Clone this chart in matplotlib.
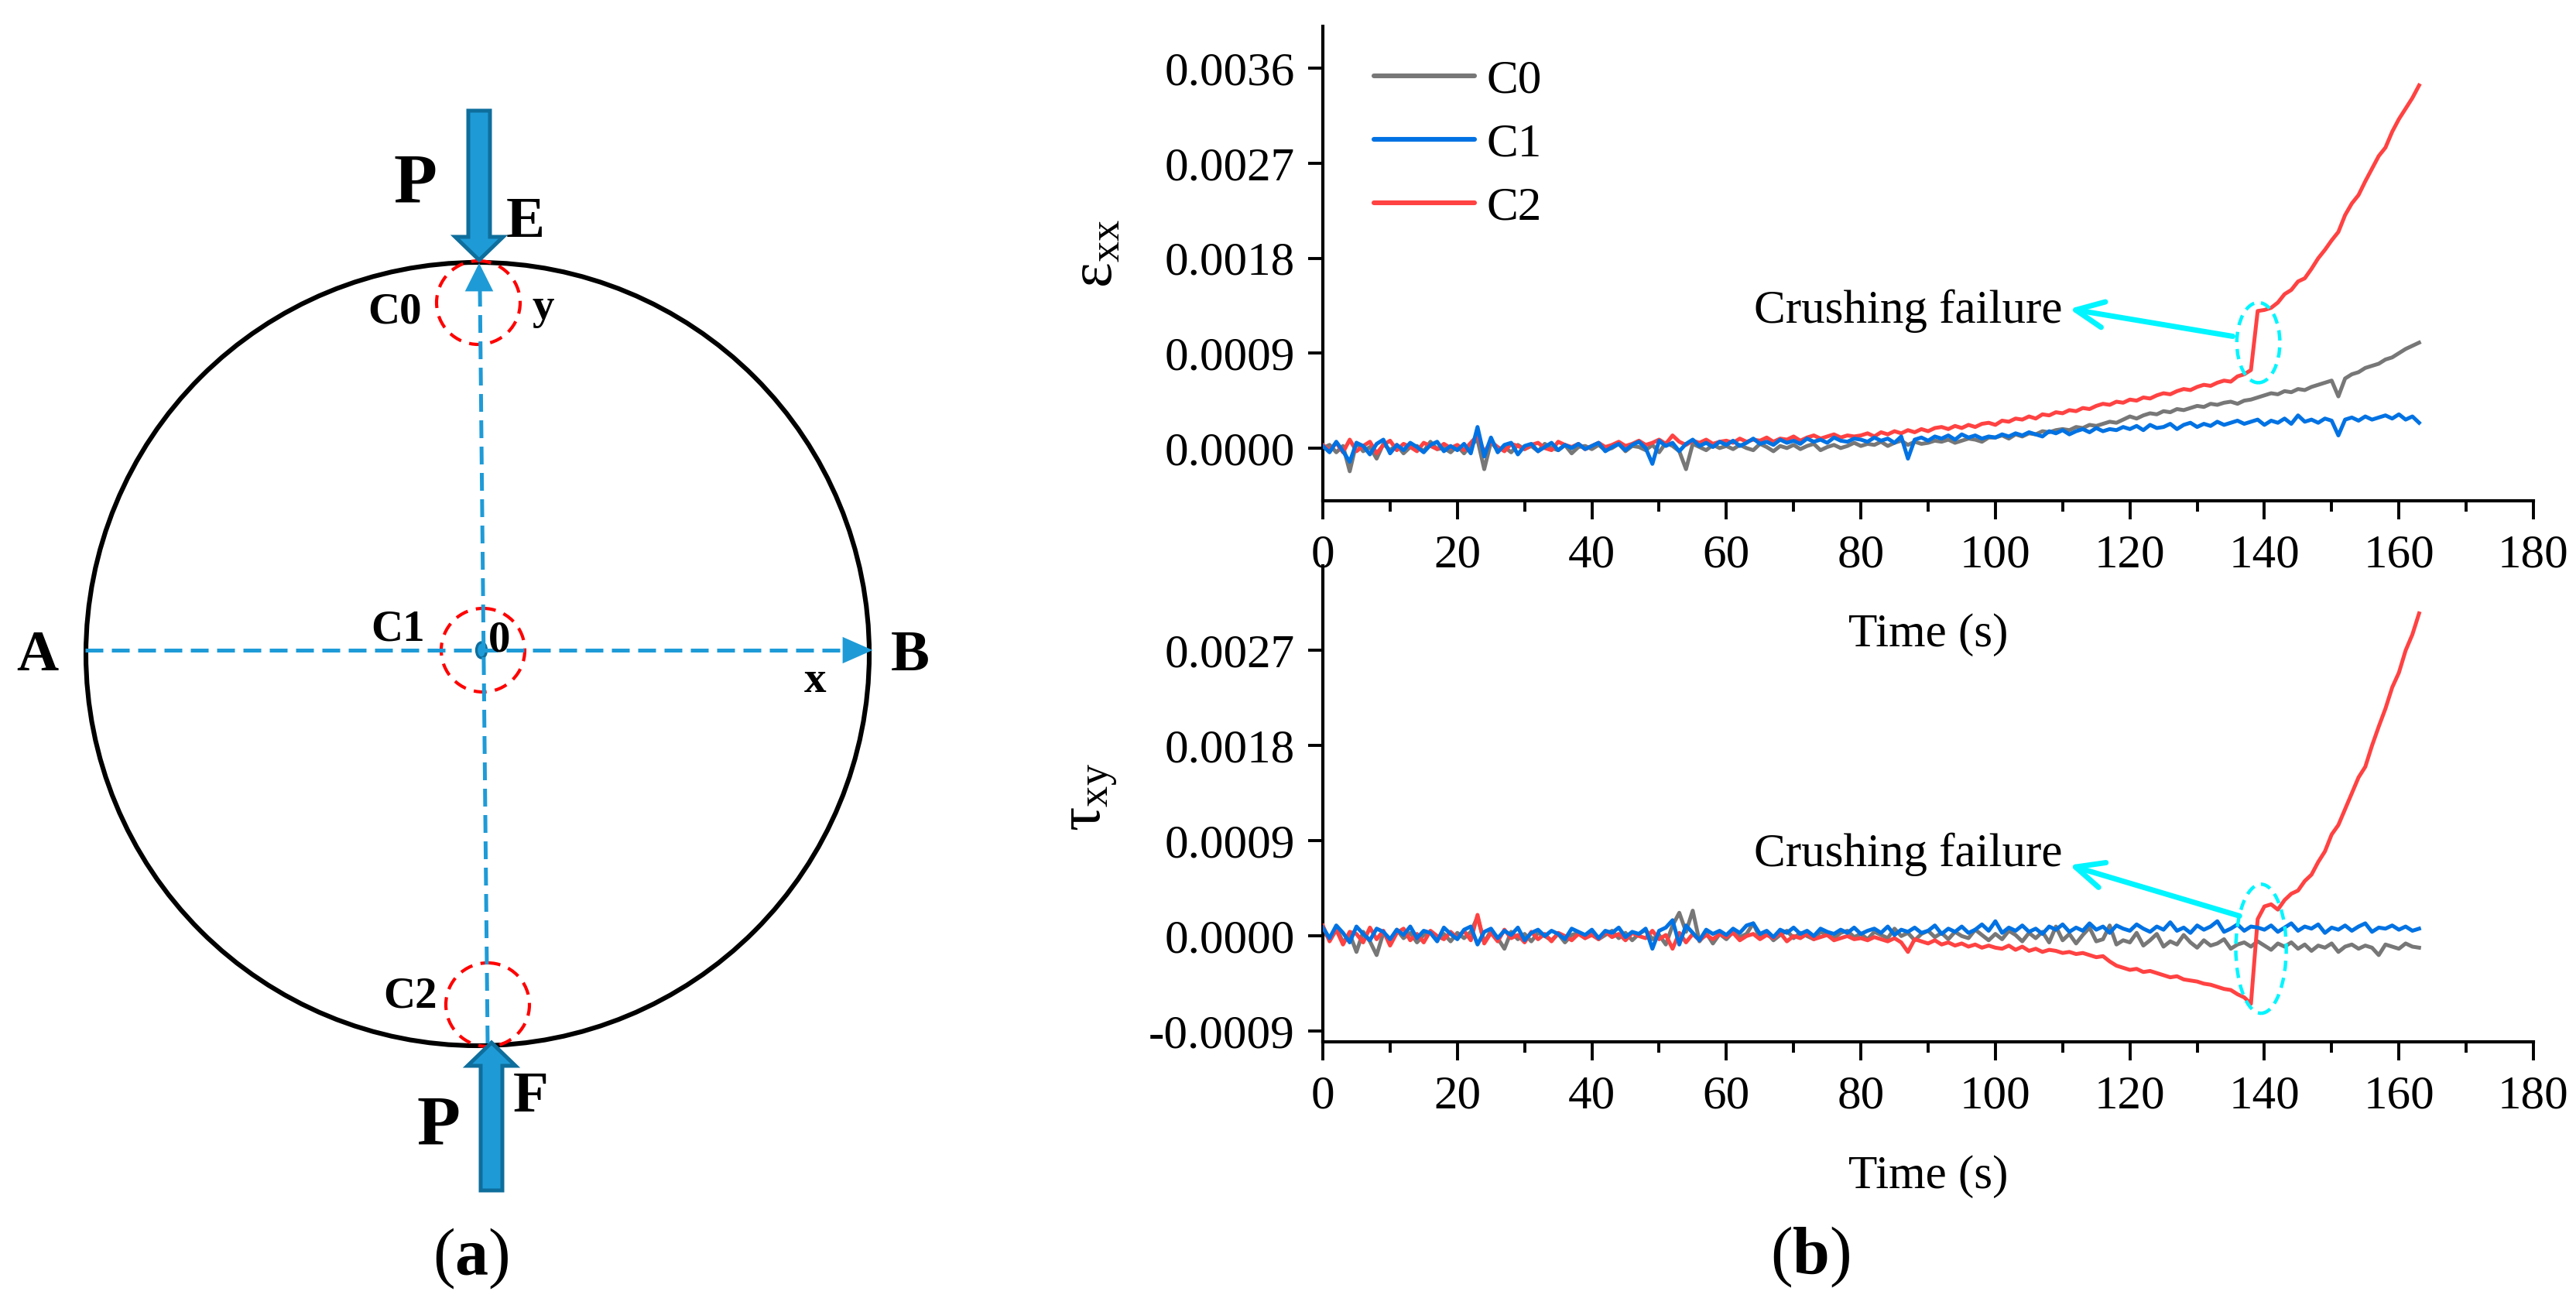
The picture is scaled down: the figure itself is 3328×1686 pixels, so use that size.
import numpy as np
import matplotlib
matplotlib.use('Agg')
import matplotlib.pyplot as plt
from matplotlib.patches import Circle, Ellipse, Polygon, FancyArrow
from matplotlib.ticker import MultipleLocator

plt.rcParams['font.family'] = ['Liberation Serif', 'DejaVu Serif']
plt.rcParams['mathtext.fontset'] = 'custom'
plt.rcParams['mathtext.rm'] = 'Liberation Serif'
plt.rcParams['mathtext.it'] = 'Liberation Serif:italic'
plt.rcParams['mathtext.bf'] = 'Liberation Serif:bold'

# strain values, units of 1e-5, one sample per second
time_s = np.arange(164)

exx_c0 = [0, 3, -4, 2, -22, 5, -3, 1, -10, 4, -2, 3, -5, 1, 2, -3, 6, -1, 0, -4,
          2, -5, 3, 8, -20, 6, -2, 1, -4, 3, -1, 2, -3, 4, 0, -2, 3, -5, 1, 2,
          -1, 3, -2, 0, 4, -3, 2, 1, -2, 3, -4, 5, 2, -3, -20, 4, 1, -2, 3, 0,
          2, -1, 3, 0, -2, 4, 1, -3, 2, 0, 3, -1, 2, 4, -2, 1, 3, 0, 2, 5,
          2, 4, 3, 6, 2, 5, 7, 3, 6, 4, 5, 7, 6, 8, 5, 7, 9, 8, 6, 10,
          10, 12, 9, 13, 11, 14, 13, 16, 15, 17, 18, 17, 20, 19, 22, 21, 23, 25, 24, 27,
          30, 28, 31, 33, 32, 35, 34, 37, 36, 38, 40, 39, 42, 41, 43, 44, 42, 45, 46, 48,
          50, 52, 51, 54, 53, 56, 55, 58, 60, 62, 64, 49, 66, 70, 72, 76, 78, 80, 84, 86,
          90, 94, 97, 100]
exx_c1 = [2, -4, 6, -3, -13, 5, 2, -6, 4, 8, -5, 3, -2, 5, 1, -4, 3, 6, -3, 2,
          -2, 4, -5, 20, -8, 10, -4, 3, 5, -6, 2, 4, -3, 1, 5, -2, 3, 0, 4, -1,
          2, 5, -3, 1, 4, -2, 3, 6, 0, -15, 7, 2, 5, -3, 4, 8, 2, 5, 1, 6,
          3, 7, 2, 5, 9, 4, 6, 3, 8, 5, 7, 4, 9, 6, 8, 5, 10, 7, 6, 9,
          8, 6, 10, 7, 9, 5, 11, -10, 8, 10, 7, 11, 9, 12, 8, 13, 10, 12, 9, 11,
          10, 13, 11, 14, 12, 15, 13, 11, 16, 14, 17, 13, 16, 18, 15, 19, 16, 18, 17, 20,
          18, 21, 17, 22, 19, 20, 23, 18, 22, 24, 20, 23, 21, 25, 22, 24, 26, 23, 25, 27,
          22, 26, 24, 28, 23, 31, 25, 27, 24, 28, 26, 12, 27, 29, 26, 30, 27, 29, 31, 28,
          32, 27, 30, 24]
exx_c2 = [3, -2, 5, -4, 8, -3, 2, 6, -5, 3, 7, -2, 4, 1, -3, 5, 2, -1, 4, 0,
          3, -2, 5, 12, -4, 6, 1, -3, 4, 2, -1, 3, 5, 0, -2, 6, 3, 1, 4, -1,
          2, 5, 1, 3, 6, 2, 4, 7, 3, 5, 8, 4, 12, 6, 3, 7, 5, 8, 4, 6,
          7, 5, 9, 6, 8, 7, 10, 6, 9, 8, 11, 7, 10, 12, 9, 11, 13, 10, 12, 11,
          12, 14, 11, 15, 13, 16, 14, 17, 15, 18, 16, 19, 20, 18, 21, 19, 22, 20, 23, 24,
          22, 26, 25, 28, 27, 30, 28, 32, 31, 34, 33, 36, 35, 38, 37, 40, 42, 41, 44, 43,
          46, 45, 48, 47, 50, 52, 51, 54, 56, 55, 58, 60, 59, 62, 64, 63, 68, 70, 74, 130,
          131, 133, 138, 146, 150, 158, 161, 170, 180, 188, 197, 205, 221, 232, 240, 253, 265, 277, 285, 300,
          312, 322, 332, 344]

txy_c0 = [5, -3, 8, -6, 2, -15, 4, -5, -18, 3, -4, 6, -2, 3, -6, 1, 4, -3, 2, -5,
          3, -2, 4, 18, -6, 5, -2, -12, 4, -3, 2, -5, 3, 0, -4, 2, -6, 1, 3, -2,
          4, -3, 1, 5, -2, 3, -4, 2, 6, -3, 1, -8, 10, 22, 4, 24, -5, 3, -7, 2,
          -3, 4, -1, 2, 12, -2, 3, -4, 1, 5, -2, 3, 0, -3, 4, 1, -2, 3, 5, -1,
          2, -3, 4, 1, -2, 7, 0, 3, -4, 2, 5, -1, 3, -3, 4, 0, -2, 6, 1, -4,
          2, -3, 5, 1, -5, 3, -2, 4, -6, 9, -4, 2, -7, 1, 8, -5, -3, 10, -8, -4,
          -6, 3, -9, -4, 2, -10, -5, -8, 1, -6, -11, -4, -9, -7, -3, -12, -8, -6, -10, -5,
          -9, -13, -7, -10, -6, -12, -8, -14, -9, -11, -7, -15, -10, -8, -12, -9, -11, -18, -8, -10,
          -12, -7, -10, -11]
txy_c1 = [8, -2, 10, 3, -6, 9, 2, -4, 7, 4, -3, 6, 1, 9, -2, 5, 3, -5, 8, 2,
          -3, 6, 9, -8, 4, 7, -2, 5, 1, 8, -4, 3, 6, 0, 5, 2, -3, 7, 4, 1,
          6, -2, 5, 3, 8, -1, 4, 2, 7, -12, 5, 8, 15, -8, 10, 3, -4, 6, 2, 5,
          1, 7, 3, 10, 12, 2, 5, -1, 6, 3, 8, 2, 5, 0, 7, 4, 2, 6, 3, 8,
          2, 5, 7, 3, 9, 1, 6, 4, 8, 3, 5, 10, 2, 7, 4, 9, 3, 6, 11, 5,
          14, 3, 8, 5, 10, 4, 7, 2, 9, 6, 11, 4, 8, 5, 12, 6, 9, 3, 10, 7,
          5, 11, 7, 4, 9, 6, 13, 5, 8, 3, 10, 6, 9, 14, 4, 7, 11, 5, 9, 8,
          6, 10, 4, 8, 12, 5, 9, 7, 11, 3, 8, 6, 10, 5, 9, 12, 4, 8, 7, 10,
          6, 9, 5, 7]
txy_c2 = [10, -5, 6, -8, 4, 2, -6, 8, -3, 5, -9, 3, 7, -4, 2, -6, 5, 0, -3, 4,
          -2, 5, -4, 20, -7, 3, -5, 6, -2, 1, -6, 4, -3, 2, -5, 3, 0, -4, 2, -2,
          1, -3, 4, -1, 2, -4, 3, 0, -2, 5, -3, 1, -12, 3, -6, 2, -4, 1, -3, 2,
          -1, 3, -4, 0, 2, -3, 1, -2, 3, -5, 0, -2, 2, -3, -1, 1, -4, -2, 0, -3,
          -2, -4, -1, -3, -5, -2, -6, -15, -3, -5, -7, -4, -8, -6, -9, -7, -10, -8, -11, -9,
          -11, -12, -9, -13, -10, -14, -12, -15, -13, -14, -16, -15, -17, -16, -18, -20, -19, -24, -28, -30,
          -32, -31, -34, -33, -35, -37, -39, -38, -41, -42, -43, -45, -46, -48, -50, -51, -55, -58, -64, 16,
          28, 30, 25, 34, 40, 43, 52, 58, 70, 80, 96, 105, 120, 135, 150, 160, 180, 198, 215, 235,
          249, 270, 285, 305]

series_names = ['C0', 'C1', 'C2']
series_colors = ['#777777', '#0072E3', '#FF4242']
series_z = [2, 4, 3]

exx_ticks = [0.0, 0.0009, 0.0018, 0.0027, 0.0036]
txy_ticks = [-0.0009, 0.0, 0.0009, 0.0018, 0.0027]

W, H = 3328, 1686
fig = plt.figure(figsize=(W / 200, H / 200), dpi=200)

# ---------- (a) schematic, drawn in pixel units ----------
dax = fig.add_axes([0, 0, 1, 1])
dax.set_xlim(0, W)
dax.set_ylim(H, 0)
dax.axis('off')
dax.patch.set_visible(False)

blue = '#1E9BD7'
blue_edge = '#0E6E9C'
CX, CY, R = 617, 845, 506
dax.add_patch(Circle((CX, CY), R, fill=False, ec='black', lw=2.2))

# dashed axes with arrowheads
dax.plot([110, 1092], [840, 840], color=blue, lw=1.8, ls=(0, (4.6, 2.2)))
dax.add_patch(Polygon([(1124, 840), (1090, 825), (1090, 855)], closed=True, color=blue))
dax.plot([630, 620], [1348, 372], color=blue, lw=1.8, ls=(0, (4.6, 2.2)))
dax.add_patch(Polygon([(619, 343), (603, 375), (635, 375)], closed=True, color=blue))
dax.add_patch(Ellipse((622, 840), 13, 20, fc=blue, ec=blue_edge, lw=1.2))

# gauge circles
for gx, gy in [(618, 391), (624, 840), (630, 1298)]:
    dax.add_patch(Circle((gx, gy), 54, fill=False, ec='#FF0000', lw=1.5, ls=(0, (4, 2.6))))

# load arrows
dax.add_patch(FancyArrow(619, 143, 0, 193, width=28, head_width=62, head_length=30,
                         length_includes_head=True, fc=blue, ec=blue_edge, lw=1.8))
dax.add_patch(FancyArrow(635, 1538, 0, -191, width=28, head_width=62, head_length=30,
                         length_includes_head=True, fc=blue, ec=blue_edge, lw=1.8))

bold = dict(fontweight='bold', ha='center', va='center')
dax.text(536, 240, 'P', fontsize=33, **bold)
dax.text(566, 1457, 'P', fontsize=33, **bold)
dax.text(679, 288, 'E', fontsize=27, **bold)
dax.text(686, 1418, 'F', fontsize=27, **bold)
dax.text(48, 848, 'A', fontsize=27, **bold)
dax.text(1176, 848, 'B', fontsize=27, **bold)
dax.text(510, 404, 'C0', fontsize=20.5, **bold)
dax.text(514, 813, 'C1', fontsize=20.5, **bold)
dax.text(530, 1288, 'C2', fontsize=20.5, **bold)
dax.text(702, 398, 'y', fontsize=20.5, **bold)
dax.text(645, 828, '0', fontsize=20.5, **bold)
dax.text(1053, 880, 'x', fontsize=20.5, **bold)
dax.text(608, 1626, r'($\mathbf{a}$)', fontsize=31, ha='center', va='center')
dax.text(2339, 1624, r'($\mathbf{b}$)', fontsize=31, ha='center', va='center')

# ---------- (b) strain histories ----------
ax_top = fig.add_axes([0.51352, 0.61625, 0.46995, 0.36358])
ax_bot = fig.add_axes([0.51352, 0.20166, 0.46995, 0.36477])
ax_bot.patch.set_visible(False)

for name, color, z, y in zip(series_names, series_colors, series_z, [exx_c0, exx_c1, exx_c2]):
    ax_top.plot(time_s, np.array(y) * 1e-5, color=color, lw=1.8, zorder=z, label=name)
for name, color, z, y in zip(series_names, series_colors, series_z, [txy_c0, txy_c1, txy_c2]):
    ax_bot.plot(time_s, np.array(y) * 1e-5, color=color, lw=1.8, zorder=z, label=name)

ax_top.set_ylim(-0.0005, 0.0040)
ax_bot.set_ylim(-0.0010, 0.0035)
ax_top.set_yticks(exx_ticks)
ax_top.set_yticklabels([f'{v:.4f}' for v in exx_ticks])
ax_bot.set_yticks(txy_ticks)
ax_bot.set_yticklabels([f'{v:.4f}' for v in txy_ticks])

for ax in (ax_top, ax_bot):
    ax.set_xlim(0, 180)
    ax.xaxis.set_major_locator(MultipleLocator(20))
    ax.xaxis.set_minor_locator(MultipleLocator(10))
    for side in ('top', 'right'):
        ax.spines[side].set_visible(False)
    for side in ('left', 'bottom'):
        ax.spines[side].set_linewidth(1.5)
    ax.tick_params(which='both', direction='out', width=1.4, labelsize=22)
    ax.tick_params(axis='x', which='major', length=8.5, pad=7)
    ax.tick_params(axis='x', which='minor', length=5)
    ax.tick_params(axis='y', which='major', length=7, pad=6)
    ax.set_xlabel('Time (s)', fontsize=22)
    ax.xaxis.set_label_coords(0.5, -0.237)

ax_top.text(-0.1867, 0.522, r'$\mathrm{\varepsilon}_{\mathrm{xx}}$', transform=ax_top.transAxes,
            rotation=90, ha='center', va='center', fontsize=28)
ax_bot.text(-0.191, 0.514, r'$\mathrm{\tau}_{\mathrm{xy}}$', transform=ax_bot.transAxes,
            rotation=90, ha='center', va='center', fontsize=28)

leg = ax_top.legend(loc='upper left', bbox_to_anchor=(0.042, 0.93), frameon=False,
                    fontsize=22, handlelength=2.13, handletextpad=0.25, labelspacing=0.43,
                    borderpad=0, borderaxespad=0)
for line in leg.get_lines():
    line.set_linewidth(2.2)
    line.set_solid_capstyle('round')

# crushing failure callouts
cyan = '#00F5FF'
ax_top.add_patch(Ellipse((139.1, 0.00100), 6.4, 0.00076, fill=False, ec=cyan, lw=1.6,
                         ls=(0, (3, 2)), zorder=6))
ax_top.text(110, 0.00130, 'Crushing failure', fontsize=22, ha='right', va='center')
ax_top.annotate('', xy=(111, 0.00132), xytext=(135.3, 0.00106),
                arrowprops=dict(arrowstyle='->,head_length=0.65,head_width=0.3', color=cyan,
                                lw=2.5, shrinkA=0, shrinkB=0, mutation_scale=20))

ax_bot.add_patch(Ellipse((139.5, -0.00012), 7.5, 0.00122, fill=False, ec=cyan, lw=1.6,
                         ls=(0, (3, 2)), zorder=6))
ax_bot.text(110, 0.00077, 'Crushing failure', fontsize=22, ha='right', va='center')
ax_bot.annotate('', xy=(111, 0.00067), xytext=(136.3, 0.00019),
                arrowprops=dict(arrowstyle='->,head_length=0.65,head_width=0.3', color=cyan,
                                lw=2.5, shrinkA=0, shrinkB=0, mutation_scale=20))

fig.savefig('out.png', dpi=200)
